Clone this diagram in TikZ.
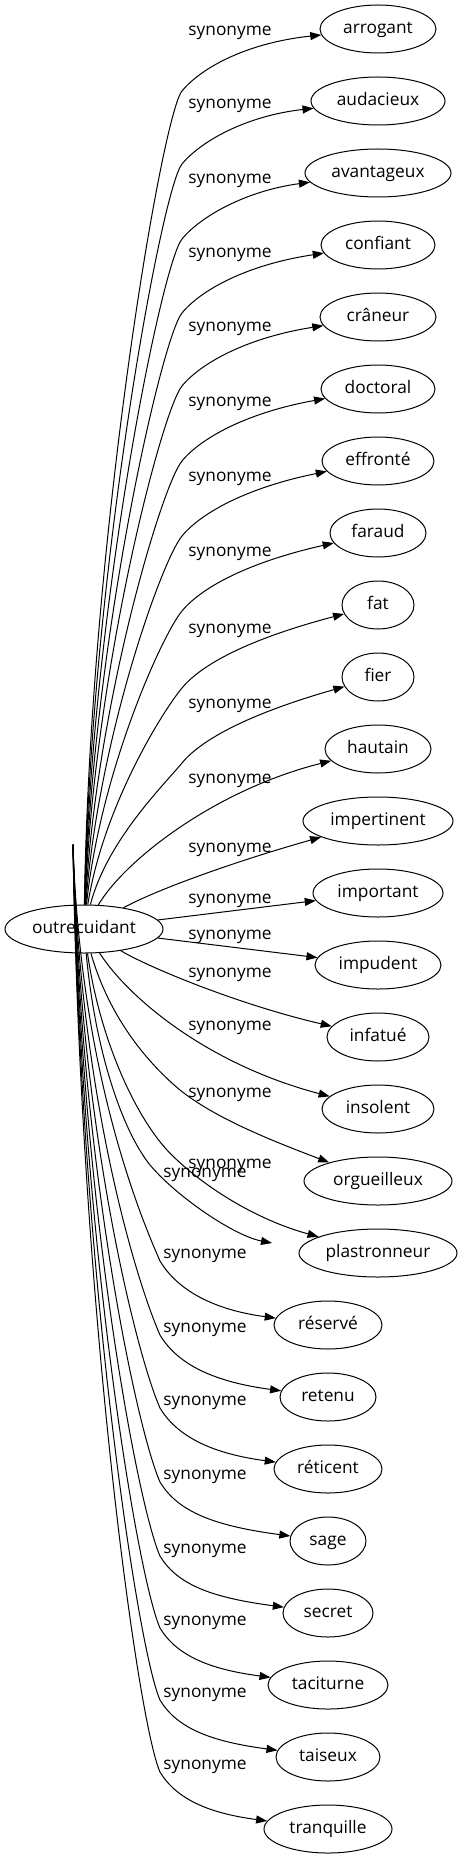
\documentclass[tikz,border=0pt]{standalone}
\usepackage{fontspec}
\setmainfont{Open Sans}
\usetikzlibrary{shapes.geometric,arrows.meta}
\newcommand\labfont{\fontsize{17.3}{20}\selectfont}
\begin{document}
\begin{tikzpicture}[x=1pt,y=-1pt,
  word/.style={draw, ellipse, inner sep=0pt, minimum height=48pt, line width=1pt,
    font=\labfont, text height=11pt, text depth=2pt},
  lab/.style={anchor=base, inner sep=0pt, font=\labfont},
  edge/.style={draw, line width=1pt, -{Triangle[length=11pt,width=8pt]}}]
\useasboundingbox (0,0) rectangle (473,1859);
\node[word, minimum width=158pt] (src) at (84,929) {outrecuidant};
\foreach \k/\t/\x/\y/\rx in {0/arrogant/378/29/58, 1/audacieux/378/101/67,
  2/avantageux/378/173/73, 3/confiant/378/245/57, 4/crâneur/378/317/58,
  5/doctoral/378/389/57, 6/effronté/378/461/56, 7/faraud/378/533/48,
  8/fat/378/605/36, 9/fier/378/677/36, 10/hautain/378/749/53,
  11/impertinent/378/821/75, 12/important/378/893/65, 13/impudent/378/965/63,
  14/infatué/378/1037/51, 15/insolent/378/1109/56, 16/orgueilleux/378/1181/74,
  17/plastronneur/378/1253/79, 18/réservé/328/1325/54, 19/retenu/328/1397/48,
  20/réticent/328/1469/54, 21/sage/328/1541/38, 22/secret/328/1613/45,
  23/taciturne/328/1685/60, 24/taiseux/328/1757/52, 25/tranquille/328/1829/64}{
  \node[word, minimum width={2*\rx}] (n\k) at (\x,\y) {\t};
}
% edge labels
\foreach \k/\ly in {0/31,1/104,2/179,3/253,4/326,5/401,6/476,7/551,8/628,9/703,
  10/778,11/847,12/898,13/934,14/972,15/1025,16/1092,17/1163}{
  \node[lab] (l\k) at (230,{\ly+5}) {synonyme};
}
\foreach \k/\ly in {26/1172,18/1253,19/1327,20/1400,21/1474,22/1548,23/1620,24/1692,25/1764}{
  \node[lab] (l\k) at (205,{\ly+5}) {synonyme};
}
% upper edges going up
\foreach \k/\ly/\sx in {0/31/80,1/104/81,2/179/82,3/253/83,4/326/84,5/401/86,
  6/476/88,7/551/90,8/628/93,9/703/97}{
  \pgfmathsetmacro\Ky{\ly+60}
  \pgfmathsetmacro\Py{905-0.45*(905-\Ky)}
  \pgfmathsetmacro\Ptx{\sx+10}
  \pgfmathsetmacro\Pty{\Ky+24}
  \pgfmathsetmacro\Qy{\ly+38}
  \pgfmathsetmacro\Ry{\ly+12}
  \draw[edge] (src) .. controls (\Ptx,\Py) and (162,\Pty) .. (182,\Ky)
    .. controls (200,\Qy) and (245,\Ry) .. (n\k);
}
\draw[edge] (src) .. controls (125,860) and (215,790) .. (n10);
% middle edges
\draw[edge] (src) .. controls (160,888) and (240,860) .. (n11);
\draw[edge] (src) -- (n12);
\draw[edge] (src) -- (n13);
\draw[edge] (src) .. controls (150,968) and (240,1005) .. (n14);
\draw[edge] (src) .. controls (130,1000) and (210,1065) .. (n15);
\draw[edge] (src) .. controls (110,1020) and (150,1065) .. (180,1090)
  .. controls (215,1118) and (270,1140) .. (n16);
\draw[edge] (src) .. controls (100,1040) and (135,1115) .. (167,1150)
  .. controls (195,1180) and (250,1218) .. (n17);
\coordinate (dang) at (272,1243);
\draw[edge] (src) .. controls (95,1050) and (122,1130) .. (150,1165)
  .. controls (178,1198) and (235,1236) .. (dang);
% lower edges
\coordinate (ls) at ([xshift=-11pt,yshift=60pt]src.north);
\foreach \k/\ly/\ty in {18/1253/1325,19/1327/1397,20/1400/1469,21/1474/1541,
  22/1548/1613,23/1620/1685,24/1692/1757,25/1764/1829}{
  \pgfmathsetmacro\Ay{845+0.46*(\ty-845)}
  \pgfmathsetmacro\By{\ly-44}
  \pgfmathsetmacro\Ky{\ly+8}
  \pgfmathsetmacro\Qy{\ly+38}
  \pgfmathsetmacro\Ry{\ty-15}
  \draw[edge] (ls) .. controls (80,\Ay) and (137,\By) .. (160,\Ky)
    .. controls (178,\Qy) and (215,\Ry) .. (n\k);
}
\end{tikzpicture}
\end{document}
